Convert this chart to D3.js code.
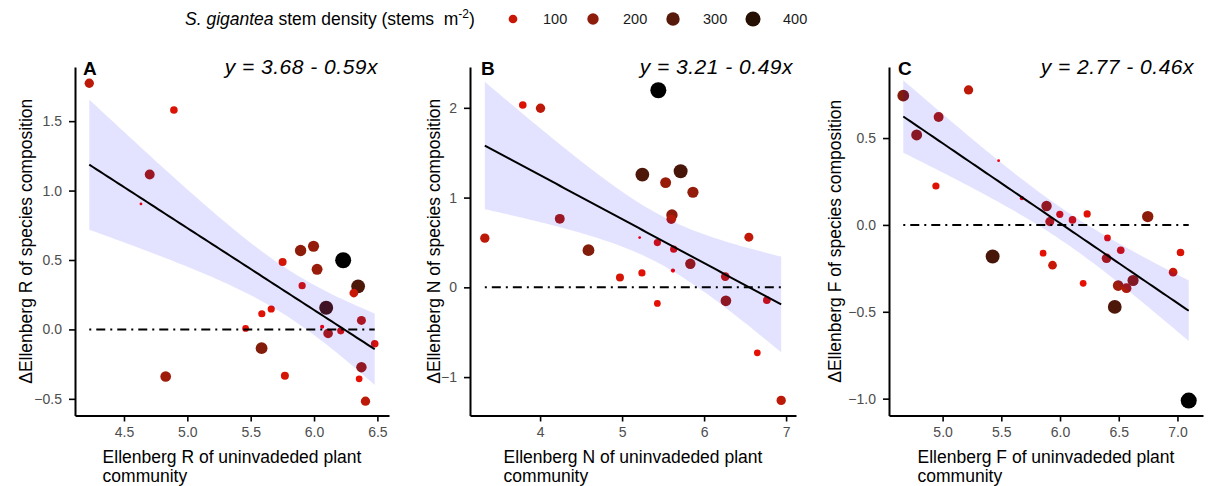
<!DOCTYPE html>
<html>
<head>
<meta charset="utf-8">
<script src="https://cdn.jsdelivr.net/npm/d3@7"></script>
<style>
  body { margin: 0; background: #fff; }
  text { font-family: "Liberation Sans", Arial, sans-serif; }
</style>
</head>
<body>
<svg id="chart" width="1210" height="486"></svg>
<script>
// ---- data ----
// Panel A: Ellenberg R
var rX = [4.226, 4.894, 4.703, 4.634, 5.752, 5.894, 5.996, 6.23, 6.024, 5.906, 6.348, 6.314, 6.096, 5.662,
          5.588, 6.374, 5.46, 6.064, 6.111, 6.211, 5.586, 6.479, 4.829, 5.77, 6.374, 6.356, 6.406];
var rY = [1.773, 1.58, 1.116, 0.904, 0.486, 0.568, 0.599, 0.498, 0.433, 0.315, 0.31, 0.262, 0.156, 0.147,
          0.113, 0.065, 0.007, 0.019, -0.029, -0.01, -0.135, -0.103, -0.339, -0.334, -0.272, -0.356, -0.517];
var rD = [120, 70, 140, 10, 80, 200, 190, 460, 180, 60, 320, 100, 330, 60,
          60, 110, 50, 15, 130, 60, 220, 70, 170, 80, 160, 50, 120];

// Panel B: Ellenberg N
var nX = [5.442, 3.789, 4.005, 5.247, 5.714, 5.531, 5.864, 5.608, 5.6, 4.24, 3.326, 6.546, 5.214,
          5.43, 5.629, 4.59, 5.832, 5.242, 5.62, 4.974, 6.258, 5.43, 6.266, 6.765, 6.649, 6.94];
var nY = [2.196, 2.032, 1.995, 1.256, 1.294, 1.167, 1.06, 0.807, 0.759, 0.763, 0.548, 0.559, 0.555,
          0.499, 0.425, 0.414, 0.262, 0.161, 0.187, 0.109, 0.12, -0.18, -0.15, -0.143, -0.729, -1.26];
var nD = [460, 70, 120, 320, 330, 180, 190, 200, 130, 140, 120, 110, 10,
          60, 60, 220, 160, 60, 15, 80, 100, 50, 170, 70, 50, 120];

// Panel C: Ellenberg F
var fX = [4.665, 5.221, 4.966, 4.779, 5.477, 4.943, 5.675, 5.885, 5.998, 6.106, 6.231, 5.913, 6.747, 5.426,
          5.856, 6.404, 6.517, 7.026, 6.396, 5.936, 6.963, 6.197, 6.495, 6.566, 6.622, 6.466, 7.096];
var fY = [0.744, 0.777, 0.621, 0.518, 0.37, 0.224, 0.154, 0.109, 0.061, 0.029, 0.063, 0.019, 0.048, -0.182,
          -0.163, -0.075, -0.146, -0.159, -0.192, -0.232, -0.272, -0.336, -0.349, -0.364, -0.32, -0.472, -1.011];
var fD = [220, 120, 140, 180, 10, 60, 15, 160, 60, 70, 60, 110, 200, 330,
          50, 50, 70, 70, 130, 100, 100, 50, 170, 140, 190, 320, 460];

// fitted lines (intercept, slope) as printed
var intercepts = [3.68, 3.21, 2.77];
var slopes = [-0.59, -0.49, -0.46];

var rTicksX = [4.5, 5.0, 5.5, 6.0, 6.5], rTicksY = [-0.5, 0.0, 0.5, 1.0, 1.5];
var nTicksX = [4, 5, 6, 7], nTicksY = [-1, 0, 1, 2];
var fTicksX = [5.0, 5.5, 6.0, 6.5, 7.0], fTicksY = [-1.0, -0.5, 0.0, 0.5];

var legendBreaks = [100, 200, 300, 400];

// ---- layout ----
var svg = d3.select("#chart");
var plotTop = 67, plotBottom = 415.5;

var allD = rD.concat(nD, fD);
var dMin = d3.min(allD), dMax = d3.max(allD);
var color = d3.scaleLinear().domain([dMin, dMax]).range(["red", "black"]).interpolate(d3.interpolateLab);
var size = function(d) { return 1.4 + 6.6 * Math.sqrt((d - dMin) / (dMax - dMin)); };

// t quantile (0.975) approximation
function tq(df) {
  var z = 1.959964;
  return z + (Math.pow(z, 3) + z) / (4 * df) +
    (5 * Math.pow(z, 5) + 16 * Math.pow(z, 3) + 3 * z) / (96 * df * df) +
    (3 * Math.pow(z, 7) + 19 * Math.pow(z, 5) + 17 * Math.pow(z, 3) - 15 * z) / (384 * Math.pow(df, 3));
}

var panels = [
  { xs: rX, ys: rY, ds: rD, a: intercepts[0], b: slopes[0], letter: "A", el: "R",
    xt: rTicksX, yt: rTicksY, xf: ".1f", yf: ".1f", left: 75, right: 389, yDom: [-0.62, 1.89],
    eqRight: 378, letterX: 83, yTitleX: 32 },
  { xs: nX, ys: nY, ds: nD, a: intercepts[1], b: slopes[1], letter: "B", el: "N",
    xt: nTicksX, yt: nTicksY, xf: "d", yf: "d", left: 470, right: 796, yDom: [-1.428, 2.455],
    eqRight: 793, letterX: 481, yTitleX: 440 },
  { xs: fX, ys: fY, ds: fD, a: intercepts[2], b: slopes[2], letter: "C", el: "F",
    xt: fTicksX, yt: fTicksY, xf: ".1f", yf: ".1f", left: 889, right: 1203, yDom: [-1.097, 0.909],
    eqRight: 1194, letterX: 898, yTitleX: 841 }
];

panels.forEach(function(p) {
  var ext = d3.extent(p.xs), pad = (ext[1] - ext[0]) * 0.05;
  var x = d3.scaleLinear().domain([ext[0] - pad, ext[1] + pad]).range([p.left, p.right]);
  var y = d3.scaleLinear().domain(p.yDom).range([plotBottom, plotTop]);
  var g = svg.append("g");

  // points
  var pts = p.xs.map(function(v, i) { return { x: v, y: p.ys[i], d: p.ds[i] }; });
  g.selectAll("circle").data(pts).enter().append("circle")
    .attr("cx", function(d) { return x(d.x); })
    .attr("cy", function(d) { return y(d.y); })
    .attr("r", function(d) { return size(d.d); })
    .attr("fill", function(d) { return color(d.d); });

  // confidence band around the printed line
  var n = p.xs.length, xbar = d3.mean(p.xs);
  var sxx = d3.sum(p.xs, function(v) { return (v - xbar) * (v - xbar); });
  var sse = d3.sum(pts, function(d) { var r = d.y - (p.a + p.b * d.x); return r * r; });
  var s = Math.sqrt(sse / (n - 2)), t = tq(n - 2);
  var grid = d3.range(80).map(function(i) { return ext[0] + (ext[1] - ext[0]) * i / 79; });
  var band = grid.map(function(v) {
    var fit = p.a + p.b * v, se = s * Math.sqrt(1 / n + (v - xbar) * (v - xbar) / sxx);
    return { x: v, fit: fit, lo: fit - t * se, hi: fit + t * se };
  });
  g.append("path").datum(band)
    .attr("d", d3.area().x(function(d) { return x(d.x); }).y0(function(d) { return y(d.lo); }).y1(function(d) { return y(d.hi); }))
    .attr("fill", "#0000ff").attr("fill-opacity", 0.11);
  g.append("path").datum(band)
    .attr("d", d3.line().x(function(d) { return x(d.x); }).y(function(d) { return y(d.fit); }))
    .attr("fill", "none").attr("stroke", "#000").attr("stroke-width", 2);

  // zero reference
  g.append("line")
    .attr("x1", x(ext[0])).attr("x2", x(ext[1])).attr("y1", y(0)).attr("y2", y(0))
    .attr("stroke", "#000").attr("stroke-width", 2).attr("stroke-dasharray", "2,5,9,5");

  // axes
  var ax = g.append("g").attr("transform", "translate(0," + plotBottom + ")")
    .call(d3.axisBottom(x).tickValues(p.xt).tickFormat(d3.format(p.xf)).tickSize(6).tickSizeOuter(0).tickPadding(6));
  var ay = g.append("g").attr("transform", "translate(" + p.left + ",0)")
    .call(d3.axisLeft(y).tickValues(p.yt).tickFormat(d3.format(p.yf)).tickSize(6).tickSizeOuter(0).tickPadding(7));
  [ax, ay].forEach(function(a) {
    a.select(".domain").attr("stroke", "#000").attr("stroke-width", 2);
    a.selectAll(".tick line").attr("stroke", "#000").attr("stroke-width", 1.6);
    a.selectAll(".tick text").attr("fill", "#4d4d4d").style("font-size", "14px")
      .style("font-family", "'Liberation Sans', Arial, sans-serif");
  });

  // x title: two lines, left-aligned block centred on the panel
  var cx = (p.left + p.right) / 2;
  var xt = g.append("text").style("font-size", "17.5px").attr("fill", "#000");
  var l1 = xt.append("tspan").attr("y", 463).text("Ellenberg " + p.el + " of uninvadeded plant");
  var w = l1.node().getComputedTextLength();
  l1.attr("x", cx - w / 2);
  xt.append("tspan").attr("x", cx - w / 2).attr("y", 482).text("community");

  // y title
  g.append("text")
    .attr("transform", "translate(" + p.yTitleX + "," + (plotTop + plotBottom) / 2 + ") rotate(-90)")
    .attr("text-anchor", "middle").style("font-size", "17.5px").attr("fill", "#000")
    .text("\u0394Ellenberg " + p.el + " of species composition");

  // panel letter
  g.append("text").attr("x", p.letterX).attr("y", 75)
    .style("font-size", "19px").style("font-weight", "bold").text(p.letter);

  // equation
  g.append("text").attr("x", p.eqRight).attr("y", 74).attr("text-anchor", "end")
    .style("font-size", "21px").style("font-style", "italic").style("letter-spacing", "0.5px")
    .text("y = " + p.a.toFixed(2) + " - " + Math.abs(p.b).toFixed(2) + "x");
});

// ---- legend ----
var lg = svg.append("g");
var lt = lg.append("text").attr("x", 185).attr("y", 25).style("font-size", "17.5px").attr("fill", "#000");
lt.append("tspan").style("font-style", "italic").text("S. gigantea");
lt.append("tspan").text(" stem density (stems\u00a0\u00a0m");
lt.append("tspan").attr("dy", -7).style("font-size", "12px").text("-2");
lt.append("tspan").attr("dy", 7).text(")");

var keys = lg.selectAll("g.key").data(legendBreaks).enter().append("g").attr("class", "key")
  .attr("transform", function(d, i) { return "translate(" + (513 + i * 80) + ",19)"; });
keys.append("circle").attr("r", function(d) { return size(d); }).attr("fill", function(d) { return color(d); });
keys.append("text").attr("x", 30).attr("y", 5).style("font-size", "14.5px").attr("fill", "#1a1a1a").text(function(d) { return d; });
</script>
</body>
</html>
